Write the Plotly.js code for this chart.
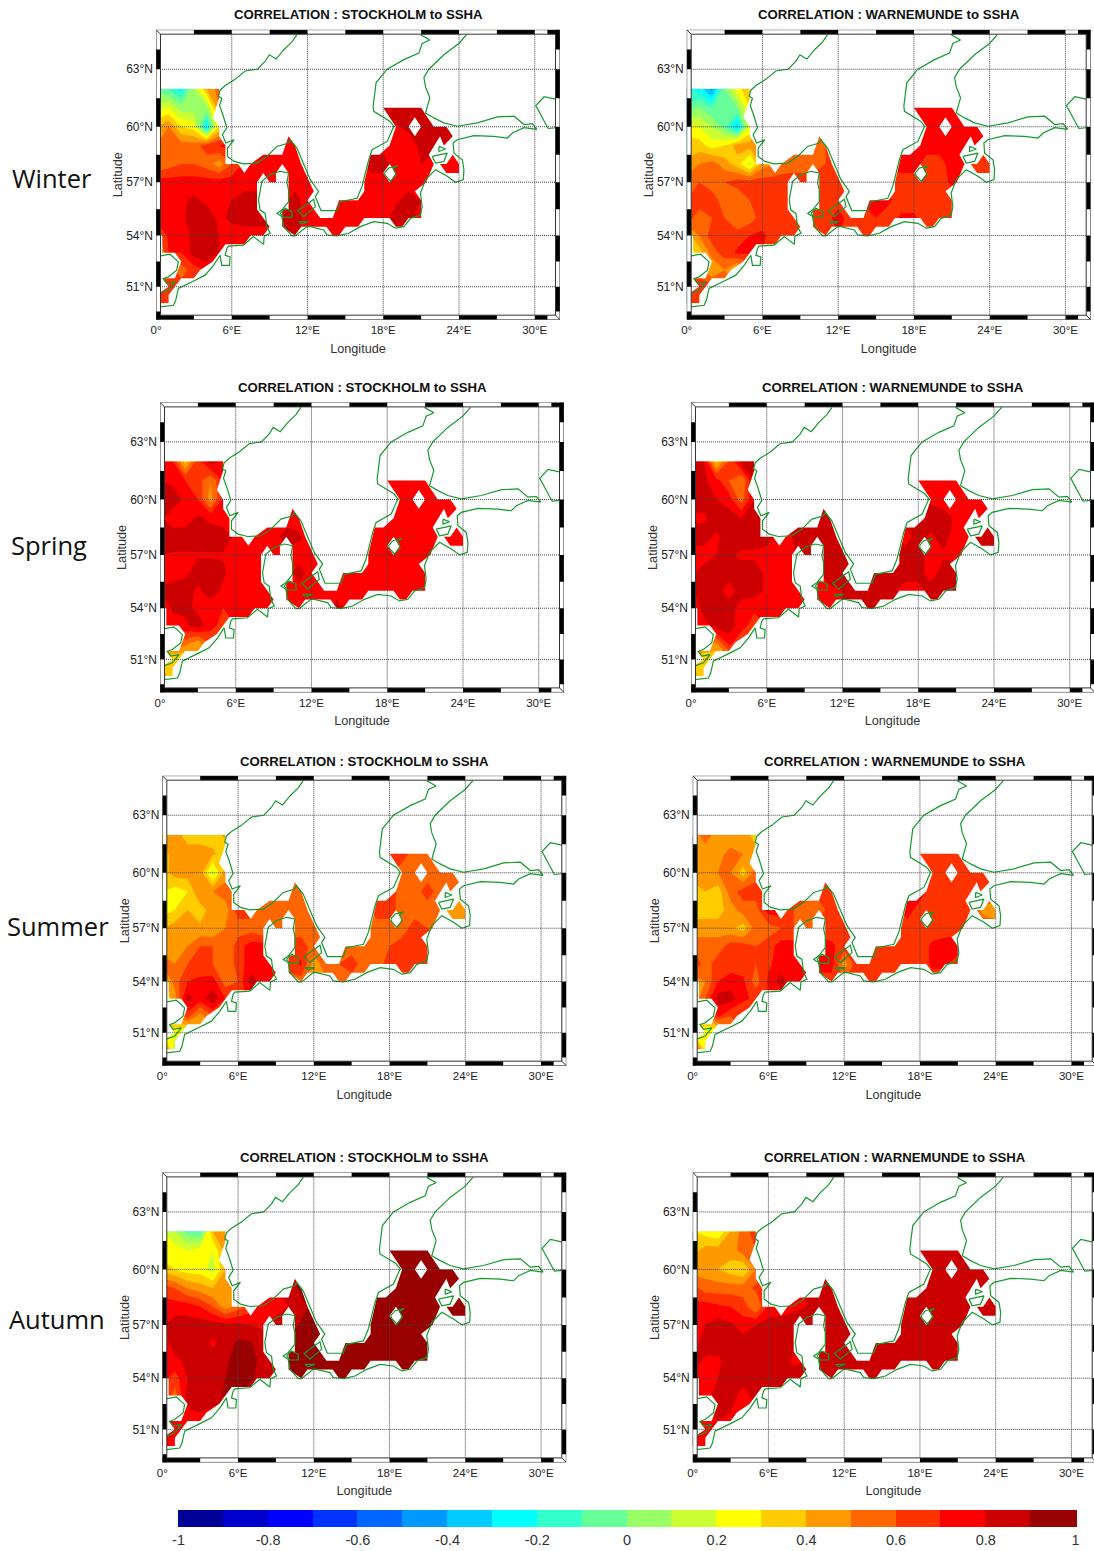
<!DOCTYPE html>
<html>
<head>
<meta charset="utf-8">
<script src="https://cdn.plot.ly/plotly-3.0.1.min.js"></script>
<style>body{margin:0;background:#fff}</style>
</head>
<body>
<div id="chart" style="width:1094px;height:1551px"></div>
<script>
// correlation grid: columns are lon 0..24, rows are lat 62 down to 50
var gridLats = [62,61,60,59,58,57,56,55,54,53,52,51,50];
var gridLons = [0,1,2,3,4,5,6,7,8,9,10,11,12,13,14,15,16,17,18,19,20,21,22,23,24];

var winterStockholm = [
[-.05,-.1,-.25,.1,.4,.55],
[.15,.2,.05,.05,.05,.5,.6,.7,.75,.75,.75,.75,.75,.75,.75,.75,.75,.85,.85,.85,.85,.85,.85,.85,.85],
[.4,.5,.3,.25,-.3,.3,.5,.7,.75,.75,.75,.75,.75,.75,.75,.75,.75,.79,.79,.79,.82,.85,.85,.85,.85],
[.5,.55,.55,.55,.65,.7,.75,.75,.75,.75,.75,.75,.75,.75,.75,.75,.75,.75,.75,.75,.76,.82,.85,.85,.8],
[.5,.55,.6,.6,.55,.45,.6,.72,.75,.75,.75,.75,.75,.75,.75,.75,.75,.85,.85,.75,.75,.8,.75,.75,.75],
[.75,.75,.75,.75,.75,.75,.75,.75,.75,.75,.75,.75,.75,.75,.75,.75,.75,.75,.75,.75,.75,.75,.75,.75,.75],
[.75,.75,.78,.82,.78,.75,.8,.85,.85,.85,.75,.85,.75,.75,.75,.75,.75,.75,.75,.78,.85,.8,.75,.75,.75],
[.75,.75,.78,.85,.85,.78,.82,.85,.85,.85,.85,.85,.75,.75,.75,.75,.75,.75,.75,.85,.85,.75,.75,.75,.75],
[.55,.72,.76,.82,.85,.8,.76,.75,.75,.75,.85,.85,.75,.75,.75,.75,.75,.75,.75,.75,.75,.75,.75,.75,.75],
[.4,.7,.7,.85,.9,.8,.75,.75,.75,.75],
[.65,.65,.55,.65,.7,.72,.75],
[.6,.6,.65,.7,.72],
[.6,.6,.65]
];
var winterWarnemunde = [
[-.2,-.25,-.45,0,.25,.4],
[-.05,0,-.1,-.1,0,.3,.45,.5,.55,.55,.55,.6,.65,.7,.75,.75,.75,.75,.75,.75,.75,.75,.75,.75,.75],
[.25,.2,.1,-.05,-.35,.2,.45,.5,.55,.55,.55,.6,.65,.7,.75,.75,.75,.75,.75,.75,.75,.75,.75,.75,.75],
[.35,.35,.25,.3,.45,.45,.5,.55,.55,.55,.55,.6,.65,.7,.75,.75,.75,.75,.75,.75,.75,.75,.75,.75,.7],
[.42,.5,.55,.45,.35,.15,.45,.5,.55,.55,.55,.6,.65,.7,.7,.7,.72,.75,.75,.65,.65,.75,.75,.65,.6],
[.55,.6,.55,.6,.65,.65,.65,.65,.65,.65,.65,.65,.65,.65,.65,.65,.65,.65,.65,.65,.65,.72,.72,.65,.65],
[.6,.65,.65,.55,.5,.6,.65,.65,.65,.65,.65,.65,.65,.7,.72,.75,.72,.65,.65,.6,.6,.65,.65,.65,.65],
[.65,.55,.6,.6,.5,.55,.65,.65,.65,.65,.7,.65,.75,.65,.65,.7,.65,.72,.72,.65,.65,.65,.65,.65,.65],
[.35,.5,.65,.6,.65,.7,.72,.65,.65,.65,.65,.65,.7,.65,.65,.65,.65,.65,.65,.65,.65,.65,.65,.65,.65],
[.2,.35,.55,.65,.72,.72,.7,.65,.65,.65],
[.6,.55,.4,.5,.35,.5,.6],
[.65,.65,.65,.6,.5],
[.65,.65,.65]
];
var springStockholm = [
[.8,.7,.35,.65,.85,.8],
[.8,.78,.7,.65,.5,.72,.75,.75,.75,.75,.75,.75,.75,.75,.75,.75,.75,.75,.75,.75,.75,.75,.75,.75,.75],
[.85,.85,.78,.7,.45,.72,.75,.75,.75,.75,.75,.75,.75,.75,.75,.75,.75,.75,.75,.75,.75,.75,.75,.75,.75],
[.82,.75,.75,.82,.78,.75,.75,.75,.75,.75,.75,.75,.75,.75,.75,.75,.75,.75,.75,.75,.75,.75,.75,.75,.75],
[.85,.85,.85,.85,.85,.85,.78,.75,.75,.75,.85,.82,.75,.75,.75,.75,.75,.75,.75,.75,.75,.75,.75,.75,.75],
[.8,.79,.79,.79,.79,.79,.75,.75,.75,.75,.75,.75,.75,.75,.75,.75,.75,.75,.75,.75,.75,.75,.75,.75,.75],
[.75,.75,.78,.85,.85,.82,.75,.75,.75,.75,.75,.85,.75,.75,.75,.75,.75,.75,.75,.75,.75,.75,.75,.75,.75],
[.82,.85,.85,.78,.85,.78,.75,.75,.7,.75,.75,.75,.75,.75,.75,.75,.75,.75,.75,.75,.75,.75,.75,.75,.75],
[.65,.82,.82,.78,.75,.7,.7,.72,.75,.75,.75,.75,.75,.75,.85,.75,.75,.75,.75,.75,.75,.75,.75,.75,.75],
[.7,.75,.78,.85,.75,.65,.7,.75,.75,.75],
[.6,.6,.55,.45,.6,.6,.65],
[.4,.3,.3,.45,.6],
[.45,.35,.3]
];
var springWarnemunde = [
[.85,.82,.35,.6,.85,.85],
[.85,.82,.75,.6,.5,.82,.8,.75,.75,.75,.75,.75,.75,.75,.75,.75,.75,.75,.75,.75,.75,.75,.75,.75,.75],
[.85,.85,.8,.75,.55,.8,.8,.75,.75,.75,.75,.75,.75,.75,.75,.75,.75,.75,.78,.78,.75,.75,.75,.75,.75],
[.78,.78,.85,.85,.8,.8,.8,.8,.8,.8,.85,.85,.85,.85,.85,.85,.85,.85,.85,.85,.85,.78,.75,.75,.75],
[.85,.85,.78,.85,.85,.85,.85,.78,.8,.82,.85,.85,.85,.85,.85,.85,.8,.75,.85,.78,.85,.75,.75,.85,.85],
[.75,.75,.8,.82,.78,.78,.75,.75,.78,.85,.85,.85,.85,.85,.85,.85,.85,.85,.85,.75,.78,.78,.78,.78,.78],
[.78,.85,.8,.85,.85,.85,.78,.75,.75,.85,.78,.85,.85,.85,.85,.85,.85,.85,.85,.75,.85,.85,.85,.85,.85],
[.78,.85,.85,.75,.85,.85,.78,.75,.75,.75,.75,.78,.8,.85,.85,.85,.82,.75,.75,.85,.85,.85,.85,.85,.85],
[.65,.85,.8,.85,.75,.72,.7,.72,.75,.75,.75,.75,.8,.85,.85,.85,.85,.85,.85,.85,.85,.85,.85,.85,.85],
[.65,.75,.85,.85,.75,.65,.7,.75,.75,.75],
[.6,.55,.5,.75,.6,.6,.65],
[.4,.3,.3,.45,.6],
[.45,.35,.3]
];
var summerStockholm = [
[.42,.45,.35,.35,.35,.42],
[.35,.45,.45,.45,.42,.35,.45,.5,.5,.55,.55,.55,.55,.55,.55,.6,.6,.65,.65,.65,.55,.55,.55,.55,.55],
[.35,.45,.45,.45,.15,.45,.5,.5,.5,.55,.55,.55,.55,.55,.55,.6,.6,.6,.6,.55,.55,.55,.55,.55,.55],
[.3,.25,.3,.5,.5,.55,.6,.6,.6,.6,.6,.6,.6,.6,.6,.6,.6,.6,.65,.55,.55,.65,.55,.55,.5],
[.25,.3,.4,.35,.45,.45,.65,.65,.5,.5,.5,.55,.55,.55,.55,.55,.55,.65,.65,.55,.55,.55,.55,.45,.42],
[.4,.45,.45,.42,.4,.5,.55,.55,.5,.55,.55,.55,.55,.55,.55,.55,.5,.55,.55,.55,.65,.6,.55,.55,.55],
[.45,.45,.5,.6,.6,.5,.65,.75,.75,.7,.65,.65,.55,.55,.55,.55,.55,.55,.6,.65,.65,.65,.65,.65,.65],
[.55,.5,.6,.65,.6,.5,.65,.75,.7,.7,.65,.72,.45,.55,.6,.65,.55,.55,.65,.65,.65,.65,.65,.65,.65],
[.3,.55,.7,.72,.75,.55,.6,.85,.75,.7,.55,.55,.42,.5,.55,.55,.55,.55,.55,.55,.55,.55,.55,.55,.55],
[.3,.45,.85,.75,.88,.7,.65,.75,.75,.75],
[.4,.5,.65,.45,.6,.6,.6],
[.3,.2,.2,.45,.6],
[.65,.1,.2]
];
var summerWarnemunde = [
[.45,.55,.45,.4,.45,.35],
[.45,.45,.45,.55,.5,.45,.5,.55,.55,.6,.65,.65,.65,.65,.65,.65,.65,.65,.65,.65,.65,.65,.65,.65,.65],
[.45,.45,.5,.5,.35,.55,.55,.55,.55,.6,.65,.65,.65,.65,.65,.65,.65,.65,.65,.65,.65,.65,.65,.65,.65],
[.35,.4,.35,.55,.65,.65,.65,.65,.65,.65,.65,.65,.65,.65,.65,.65,.65,.65,.75,.65,.65,.65,.65,.65,.65],
[.35,.35,.35,.45,.55,.55,.75,.75,.6,.55,.55,.65,.65,.65,.65,.65,.65,.75,.65,.65,.65,.65,.65,.45,.4],
[.45,.45,.45,.42,.35,.55,.55,.6,.6,.55,.65,.65,.65,.65,.65,.65,.65,.65,.65,.65,.65,.65,.65,.6,.6],
[.55,.55,.55,.65,.65,.6,.65,.75,.75,.7,.75,.72,.65,.65,.65,.65,.65,.65,.65,.72,.75,.75,.7,.65,.65],
[.72,.55,.65,.65,.65,.6,.68,.75,.7,.7,.75,.75,.45,.65,.65,.65,.65,.65,.65,.72,.72,.65,.65,.65,.65],
[.4,.5,.7,.75,.72,.55,.72,.85,.72,.7,.65,.65,.6,.65,.65,.65,.65,.65,.65,.65,.65,.65,.65,.65,.65],
[.4,.6,.85,.85,.72,.68,.7,.75,.75,.75],
[.35,.45,.72,.6,.6,.6,.65],
[.3,.2,.2,.5,.6],
[.75,.25,.25]
];
var autumnStockholm = [
[.2,.1,-.05,-.1,.4,.5],
[.25,.25,.2,.25,.2,.45,.55,.7,.8,.8,.85,.95,.95,.95,.95,.95,.95,.95,.95,.95,.95,.95,.95,.95,.95],
[.35,.3,.25,.25,.15,.4,.55,.7,.8,.8,.85,.95,.95,.95,.95,.95,.95,.95,.95,.95,.95,.95,.95,.95,.95],
[.65,.6,.5,.45,.4,.4,.55,.7,.8,.8,.8,.95,.95,.95,.95,.95,.95,.95,.95,.95,.95,.95,.95,.95,.95],
[.75,.75,.75,.7,.6,.45,.55,.65,.75,.75,.8,.85,.95,.95,.95,.95,.95,.95,.95,.95,.95,.95,.95,.95,.95],
[.78,.85,.85,.85,.85,.82,.82,.8,.78,.85,.85,.92,.95,.95,.95,.95,.95,.95,.95,.95,.95,.95,.95,.95,.95],
[.75,.85,.85,.85,.78,.85,.92,.91,.85,.85,.9,.92,.95,.95,.95,.95,.95,.95,.95,.95,.95,.95,.95,.95,.95],
[.75,.78,.82,.85,.85,.88,.95,.92,.88,.9,.95,.95,.95,.95,.95,.95,.95,.95,.95,.95,.95,.95,.95,.95,.95],
[.75,.65,.8,.85,.85,.9,.95,.92,.85,.9,.95,.95,.95,.95,.95,.95,.95,.95,.95,.95,.95,.95,.95,.95,.95],
[.75,.55,.85,.85,.85,.92,.92,.85,.85,.85],
[.7,.75,.78,.8,.78,.78,.8],
[.75,.75,.75,.78,.78],
[.7,.75,.75]
];
var autumnWarnemunde = [
[.3,.25,.2,.4,.55,.65],
[.35,.45,.45,.45,.55,.6,.65,.7,.75,.8,.85,.85,.85,.85,.85,.85,.85,.85,.85,.85,.85,.85,.85,.85,.85],
[.45,.45,.4,.35,.3,.5,.65,.7,.75,.8,.85,.85,.85,.85,.85,.85,.85,.85,.85,.85,.85,.85,.85,.85,.85],
[.65,.55,.55,.55,.55,.62,.7,.75,.78,.8,.85,.85,.85,.85,.85,.85,.85,.85,.85,.85,.85,.85,.85,.85,.85],
[.72,.75,.72,.7,.65,.5,.72,.75,.78,.8,.82,.85,.85,.85,.85,.85,.85,.85,.85,.85,.85,.85,.85,.85,.85],
[.75,.8,.85,.82,.75,.8,.85,.85,.85,.85,.85,.85,.85,.85,.85,.85,.85,.85,.85,.85,.85,.85,.85,.85,.85],
[.75,.85,.85,.85,.85,.85,.85,.85,.85,.85,.85,.85,.85,.85,.85,.85,.85,.85,.85,.85,.85,.85,.85,.85,.85],
[.85,.78,.78,.85,.85,.85,.85,.85,.78,.8,.85,.85,.85,.85,.85,.85,.85,.85,.85,.85,.85,.85,.85,.85,.85],
[.75,.75,.8,.85,.85,.85,.85,.85,.85,.85,.85,.85,.85,.85,.85,.85,.85,.85,.85,.85,.85,.85,.85,.85,.85],
[.72,.75,.85,.85,.75,.85,.85,.85,.85,.85],
[.75,.75,.85,.8,.75,.75,.8],
[.75,.75,.75,.75,.75],
[.7,.75,.75]
];

var panelData = [winterStockholm, winterWarnemunde, springStockholm, springWarnemunde,
                 summerStockholm, summerWarnemunde, autumnStockholm, autumnWarnemunde];
var panelNames = ["STOCKHOLM","WARNEMUNDE","STOCKHOLM","WARNEMUNDE","STOCKHOLM","WARNEMUNDE","STOCKHOLM","WARNEMUNDE"];
var seasonNames = ["Winter","Spring","Summer","Autumn"];

// 20 colour bands from -1 to 1
var bandColors = ["#000099","#0000cc","#0000ff","#0033ff","#0066ff","#0099ff","#00ccff","#00ffff","#33ffcc","#66ff99",
                  "#99ff66","#ccff33","#ffff00","#ffcc00","#ff9900","#ff6600","#ff3300","#ff0000","#cc0000","#990000"];
var barTicks = [-1,-0.8,-0.6,-0.4,-0.2,0,0.2,0.4,0.6,0.8,1];
var barLabels = ["-1","-0.8","-0.6","-0.4","-0.2","0","0.2","0.4","0.6","0.8","1"];

var lonTicks = [0,6,12,18,24,30];
var lonLabels = ["0°","6°E","12°E","18°E","24°E","30°E"];
var latTicks = [51,54,57,60,63];
var latLabels = ["51°N","54°N","57°N","60°N","63°N"];

// coast outlines, degrees, null separates the pieces
var coastLon = [11.16,10.77,10.11,9.52,8.97,8.65,8.04,7.06,6.27,5.48,5.08,4.95,5.21,5.03,5.29,5.61,5.26,5.53,6.19,5.66,5.66,6.19,6.93,7.99,8.78,9.58,10.5,10.63,11.16,11.56,12.22,12.88,12.62,13.07,14.34,14.6,15.93,16.32,16.85,17.12,18.31,18.84,18.52,17.25,17.2,17.43,18.31,19.63,20.82,21.08,21.69,20.95,null,
24.6,23.99,22.8,21.61,21.22,21.35,21.69,21.35,22.01,22.8,23.86,25.45,27.04,28.36,29.15,29.81,30.16,29.15,28.23,27.83,26.77,25.19,23.86,23.54,23.6,24.26,24.39,24.34,23.73,23.07,22.14,21.35,20.95,21.08,20.95,20.16,19.63,18.97,18.31,17.25,16.19,15.26,14.34,13.54,13.28,12.22,11.96,11.03,10.77,10.11,9.97,9.58,9.97,10.5,10.5,10.37,10.5,9.84,9.05,8.39,8.12,8.25,8.65,8.78,9.05,8.57,8.52,7.72,6.93,5.74,5.61,5.48,5.87,5.82,5.21,5.08,4.55,3.89,3.1,1.77,1.56,1.38,0.32,null,
0.37,1.11,1.77,1.64,0.98,0.58,0.85,1.51,0.98,0.37,null,
18.1,18.44,19.15,18.78,19.02,18.57,18.17,18.1,null,
21.88,23.07,22.8,22.14,21.88,null,
22.41,22.94,22.41,22.41,null,
11.3,12.49,12.62,11.69,11.22,11.3,null,
9.84,10.24,10.77,10.77,10.11,9.84,null,
11.3,12.09,11.56,11.3,null,
31.72,30.74,30.08,30.48,31.06,31.67];
var coastLat = [64.75,64.39,63.98,63.52,63.74,63.41,63,62.91,62.48,62.16,61.92,61.61,61.5,61.12,60.65,59.95,59.58,59.13,59.31,58.86,58.41,58.14,58.01,58.05,58.41,58.95,59.13,59.31,58.86,58.23,57.14,56.49,56.21,55.42,55.42,55.92,56.11,56.77,58.23,58.77,59.22,60.03,60.3,60.82,61.08,62.3,63,63.49,63.82,64.31,64.48,64.75,null,
64.75,64.31,63.74,63,62.57,62.09,61.52,60.73,60.47,60.21,60.03,60.21,60.52,60.56,60.12,60.17,59.86,59.95,59.67,59.4,59.49,59.53,59.31,59.13,58.59,58.23,57.69,57.14,57,57.33,57.69,57.14,56.4,55.64,55.17,54.98,54.51,54.42,54.7,54.79,54.51,54.13,53.98,54.04,54.32,54.51,54.51,53.98,53.98,54.51,55.08,55.26,55.45,55.92,56.58,56.96,57.51,57.6,57.42,57.05,56.02,55.45,55.26,54.51,54.13,53.98,53.49,53.94,53.45,53.39,53.25,52.86,52.76,52.27,52.27,52.86,52.27,51.69,51.39,50.9,50.18,49.88,49.78,null,
52.82,52.92,52.47,51.98,51.59,51.49,51.2,51.29,50.8,50.63,null,
57.51,57.78,57.9,57.74,57.42,57.05,57.36,57.51,null,
58.41,58.59,58.14,58.05,58.41,null,
58.95,58.81,58.68,58.95,null,
55.45,56.06,55.64,55.08,55.42,55.45,null,
55.26,55.55,55.36,55.04,55.04,55.26,null,
54.79,54.79,54.66,54.79,null,
61.44,61.58,61.12,60.65,59.91,59.95];

// outline of the sea cells that have values; everything outside stays blank
var seaLon = [-1,33,33,-1,null,
-1,5,5,4.5,5,5,5.5,5.5,6.5,7,7.5,8.5,10,10.5,11,11.5,12.5,12,12.5,13,14,14.5,16,16.5,16.5,17,17.7,18.5,19,18,21,22,23,23.5,22.8,22.5,21.6,22,21.4,20.5,21,21,20,19.5,19,18.5,16.5,16,15,14.5,14,13.5,12,11.5,11,10,10,10.5,10.5,10,9.5,9.5,9,8.5,8,8,9,8.5,7.5,7,5.5,5,4.5,3.5,3,2,1.5,1,1,-1,-1,0,1,0.5,1.5,2,1.5,0.5,0.5,-1,null,
23.5,24,24,23,22.5,23,null,
20.5,20,20.5,21,null,
18.5,18,18.5,19];
var seaLat = [48,48,66,66,null,
62,62,61.5,60.5,60,59.5,59,58,58,57.5,58,58.5,58.5,59.5,59,58,56.5,56,55.5,55,55,56,56,56.5,57,58.5,58.5,59,60,61,61,60,60,59.5,59,59.5,58.5,58,57,56.5,56,55,55,54.5,54.5,55,55,54.5,54.5,54,54,54.5,54.5,54.5,54,54.5,55.5,55.5,57.5,58,57.5,57,57,57.5,57,55.5,54.5,54,54,53.5,53.5,53,52.5,52,51.5,51.5,51,50.5,50,50,50.5,50.5,51,51.5,51.5,52.5,53,53,54,54,null,
58.5,58,57.5,57.5,58,58,null,
60.5,60,59.5,60,null,
58,57.5,57,57.5];

// frame checker pieces
var topBlack = [[3,6],[9,12],[15,18],[21,24],[27,30],[31,32]];
var bottomBlack = [[0,3],[6,9],[12,15],[18,21],[24,27],[30,31]];
var leftBlack = [[49,49.5],[51,52.5],[54,55.5],[57,58.5],[60,61.5],[63,64]];
var rightBlack = [[49.5,51],[52.5,54],[55.5,57],[58.5,60],[61.5,63],[64,65]];

// panel top left corners in pixels
var panelLeft = [156,686.7,160,691,162.3,692.7,162.3,692.7];
var panelTop = [29.7,29.7,402.4,402.4,775.7,775.7,1172.4,1172.4];
var panelW = 404, panelH = 290;
var W = 1094, H = 1551;
var pxPerLon = panelW / 32;

// the map projection stretches the latitudes a little toward the north
function projY(lat) {
  if (lat === null) return null;
  return lat + 0.0248 * lat * lat;
}

var yBottom = projY(49), yTop = projY(65);
var frameX = 4.5 / pxPerLon;
var frameY = 4.5 * (yTop - yBottom) / panelH;
var textColor = "#222";
var font = "Liberation Sans, Arial, sans-serif";

var stepScale = [];
bandColors.forEach(function (c, i) {
  stepScale.push([i / 20, c]);
  stepScale.push([(i + 1) / 20, c]);
});

var traces = [], shapes = [], annotations = [];
var layout = {
  width: W, height: H,
  margin: {l: 0, r: 0, t: 0, b: 0},
  paper_bgcolor: "#fff", plot_bgcolor: "#fff",
  showlegend: false, hovermode: false,
  font: {family: font, color: textColor}
};

function box(xr, yr, x0, x1, y0, y1, fill) {
  return {type: "rect", xref: xr, yref: yr, x0: x0, x1: x1, y0: y0, y1: y1, fillcolor: fill, line: {width: 0}};
}
function seg(xr, yr, x0, x1, y0, y1, color, dash) {
  return {type: "line", xref: xr, yref: yr, x0: x0, x1: x1, y0: y0, y1: y1, line: {color: color, width: 1, dash: dash || "solid"}};
}

panelData.forEach(function (rows, i) {
  var n = i === 0 ? "" : String(i + 1);
  var xr = "x" + n, yr = "y" + n;
  var xMax = Math.min(32, (W - panelLeft[i]) / pxPerLon);
  var x0Frac = panelLeft[i] / W;
  var x1Frac = (panelLeft[i] + xMax * pxPerLon) / W;

  layout["xaxis" + n] = {
    domain: [x0Frac, x1Frac], range: [0, xMax], anchor: yr,
    tickmode: "array", tickvals: lonTicks, ticktext: lonLabels,
    tickfont: {size: 11.5, color: textColor, family: font},
    ticklabelstandoff: 2,
    showgrid: false, zeroline: false, showline: false, ticks: "",
    title: {text: "Longitude", font: {size: 12.7, color: "#333", family: font}, standoff: 8}
  };
  layout["yaxis" + n] = {
    domain: [1 - (panelTop[i] + panelH) / H, 1 - panelTop[i] / H], range: [yBottom, yTop], anchor: xr,
    tickmode: "array", tickvals: latTicks.map(projY), ticktext: latLabels,
    tickfont: {size: 12, color: textColor, family: font},
    ticklabelstandoff: 2,
    showgrid: false, zeroline: false, showline: false, ticks: "",
    title: {text: "Latitude", font: {size: 12.7, color: "#333", family: font}, standoff: 0}
  };

  var contour = {
    type: "contour", xaxis: xr, yaxis: yr,
    x: gridLons, y: gridLats.slice().reverse().map(projY),
    z: rows.slice().reverse(),
    zmin: -1, zmax: 1, colorscale: stepScale,
    autocontour: false,
    contours: {start: -1, end: 1, size: 0.1, coloring: "fill", showlines: false},
    line: {width: 0, smoothing: 0},
    showscale: i === 0
  };
  if (i === 0) {
    contour.colorbar = {
      orientation: "h", lenmode: "pixels", len: 897, thicknessmode: "pixels", thickness: 17,
      x: 627 / W, xanchor: "center", y: 1 - 1543 / H, yanchor: "bottom", xpad: 0, ypad: 0,
      outlinewidth: 0, ticks: "", tickmode: "array", tickvals: barTicks, ticktext: barLabels,
      tickfont: {family: font, size: 14.5, color: "#333"}
    };
  }
  traces.push(contour);

  // blank out everything that is not sea cell
  traces.push({
    type: "scatter", mode: "lines", xaxis: xr, yaxis: yr,
    x: seaLon, y: seaLat.map(projY), fill: "toself", fillcolor: "#fff",
    line: {width: 0, color: "#fff"}, hoverinfo: "skip"
  });
  traces.push({
    type: "scatter", mode: "lines", xaxis: xr, yaxis: yr,
    x: coastLon, y: coastLat.map(projY),
    line: {color: "#169a2e", width: 1.2}, hoverinfo: "skip"
  });

  // dotted graticule
  lonTicks.slice(1).forEach(function (v) {
    shapes.push(seg(xr, yr, v, v, yBottom, yTop, "#444", "1px,1px"));
  });
  latTicks.forEach(function (v) {
    shapes.push(seg(xr, yr, 0, 32, projY(v), projY(v), "#444", "1px,1px"));
  });

  // checker frame
  shapes.push(box(xr, yr, 0, 32, yTop - frameY, yTop, "#fff"));
  shapes.push(box(xr, yr, 0, 32, yBottom, yBottom + frameY, "#fff"));
  shapes.push(box(xr, yr, 0, frameX, yBottom, yTop, "#fff"));
  shapes.push(box(xr, yr, 32 - frameX, 32, yBottom, yTop, "#fff"));
  topBlack.forEach(function (p) { shapes.push(box(xr, yr, p[0], p[1], yTop - frameY, yTop, "#000")); });
  bottomBlack.forEach(function (p) { shapes.push(box(xr, yr, p[0], p[1], yBottom, yBottom + frameY, "#000")); });
  leftBlack.forEach(function (p) { shapes.push(box(xr, yr, 0, frameX, projY(p[0]), projY(p[1]), "#000")); });
  rightBlack.forEach(function (p) { shapes.push(box(xr, yr, 32 - frameX, 32, projY(p[0]), projY(p[1]), "#000")); });
  shapes.push({type: "rect", xref: xr, yref: yr, x0: 0, x1: 32, y0: yBottom, y1: yTop, line: {color: "#333", width: 1}});
  shapes.push({type: "rect", xref: xr, yref: yr, x0: frameX, x1: 32 - frameX, y0: yBottom + frameY, y1: yTop - frameY, line: {color: "#333", width: 1}});
  shapes.push(seg(xr, yr, 0, frameX, yTop, yTop - frameY, "#333"));
  shapes.push(seg(xr, yr, 32 - frameX, 32, yBottom + frameY, yBottom, "#333"));

  annotations.push({
    xref: "paper", yref: "paper", x: (panelLeft[i] + panelW / 2) / W, y: 1 - (panelTop[i] - 14.7) / H,
    text: "<b>CORRELATION : " + panelNames[i] + " to SSHA</b>", showarrow: false,
    xanchor: "center", yanchor: "middle",
    font: {family: font, size: 13.2, color: "#111"}
  });
});

// season labels on the left
var seasonX = [10, 9, 5, 7];
var seasonY = [178, 545, 926, 1319];
seasonNames.forEach(function (s, i) {
  annotations.push({
    xref: "paper", yref: "paper", x: seasonX[i] / W, y: 1 - seasonY[i] / H,
    text: s, showarrow: false, xanchor: "left", yanchor: "middle",
    font: {family: "Open Sans, sans-serif", size: 25.5, color: "#111"}
  });
});

layout.shapes = shapes;
layout.annotations = annotations;

Plotly.newPlot("chart", traces, layout, {displayModeBar: false, staticPlot: true});
</script>
</body>
</html>
